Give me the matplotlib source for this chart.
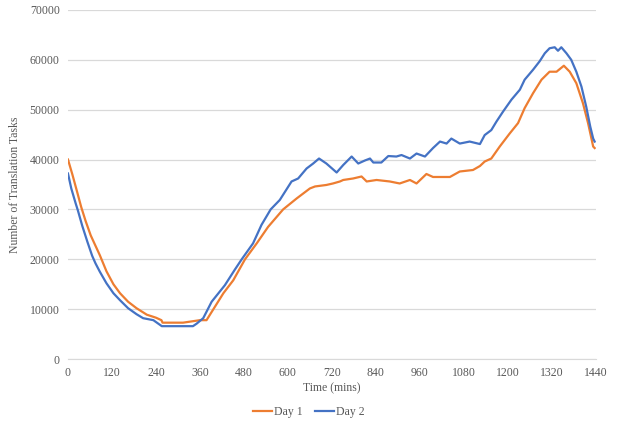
import matplotlib
matplotlib.use("Agg")
from matplotlib import pyplot as plt

# values (time in minutes, number of tasks)
day1_time = [0, 12, 25, 36, 48, 62, 87, 105, 124, 142, 164, 187, 215,
             240, 255, 258, 314, 360, 378, 401, 424, 451, 483, 515, 546, 587,
             624, 660, 674, 705, 723, 742, 751, 778, 801, 815, 842, 878, 905,
             933, 951, 978, 996, 1042, 1069, 1105, 1124, 1137, 1155, 1178,
             1205, 1228, 1246, 1269, 1292, 1314, 1333, 1353, 1369, 1387, 1405,
             1419, 1433, 1437]
day1_tasks = [40000, 37000, 33500, 30500, 27700, 24800, 20800, 17600,
              15000, 13200, 11500, 10200, 8900, 8300, 7800, 7300, 7300, 7800,
              7800, 10500, 13200, 15800, 20000, 23200, 26500, 30000, 32200,
              34200, 34600, 34900, 35200, 35600, 35900, 36200, 36600, 35600,
              35900, 35600, 35200, 35900, 35200, 37100, 36500, 36500, 37600,
              37900, 38700, 39600, 40200, 42600, 45200, 47300, 50300, 53300,
              56000, 57600, 57600, 58800, 57600, 55300, 51300, 47300, 42600,
              42300]

day2_time = [0, 9, 21, 27, 39, 53, 66, 75, 87, 105, 124, 142, 164, 187, 205,
             233, 256, 341, 351, 369, 392, 428, 455, 474, 505, 528, 553, 578,
             610, 628, 651, 669, 685, 705, 733, 751, 774, 792, 810, 824, 833,
             855, 874, 896, 910, 933, 951, 974, 996, 1015, 1033, 1046, 1069,
             1096, 1124, 1137, 1155, 1169, 1187, 1210, 1233, 1246, 1269, 1287,
             1301, 1314, 1328, 1337, 1346, 1360, 1373, 1387, 1401, 1414, 1425,
             1433, 1437]
day2_tasks = [37200, 34200, 31200, 29800, 26700, 23500, 20700, 19200, 17500,
              15200, 13200, 11800, 10200, 9000, 8200, 7800, 6600, 6600, 7100,
              8200, 11500, 14800, 17900, 20000, 23200, 26900, 30000, 31900,
              35600, 36200, 38200, 39200, 40200, 39200, 37400, 38900, 40600,
              39200, 39800, 40200, 39400, 39400, 40700, 40600, 40900, 40200,
              41200, 40600, 42300, 43600, 43200, 44200, 43200, 43600, 43100,
              44900, 45900, 47600, 49600, 52000, 54000, 56000, 58000, 59700,
              61300, 62300, 62500, 61800, 62500, 61300, 60000, 57600, 54600,
              50600, 46600, 44200, 43600]

x_ticks = list(range(0, 1441, 120))
y_ticks = list(range(0, 70001, 10000))

plt.rcParams['font.family'] = ['Liberation Serif', 'DejaVu Serif']
text_col = '#595959'

fig = plt.figure(figsize=(6.18, 4.28), dpi=100)
ax = fig.add_axes([0.110, 0.161, 0.854, 0.816])

ax.plot(day1_time, day1_tasks, color='#ED7D31', linewidth=1.6, label='Day 1')
ax.plot(day2_time, day2_tasks, color='#4472C4', linewidth=1.6, label='Day 2')

ax.set_xlim(0, 1440)
ax.set_ylim(0, 70000)
ax.set_xticks(x_ticks)
ax.set_yticks(y_ticks)
ax.tick_params(axis='both', length=0, labelsize=8.5, labelcolor=text_col, pad=6)
ax.grid(axis='y', color='#D9D9D9', linewidth=0.9)
ax.set_axisbelow(True)
for side in ['top', 'right', 'left']:
    ax.spines[side].set_visible(False)
ax.spines['bottom'].set_color('#D9D9D9')

ax.set_xlabel('Time (mins)', fontsize=8.5, color=text_col, labelpad=2)
ax.set_ylabel('Number of Translation Tasks', fontsize=8.5, color=text_col, labelpad=6)

fig.legend(loc='center', bbox_to_anchor=(0.5, 0.037), ncol=2, frameon=False,
           fontsize=8.5, labelcolor=text_col, handlelength=1.6,
           handletextpad=0.2, columnspacing=1.0)

fig.savefig('out.png', dpi=100)
